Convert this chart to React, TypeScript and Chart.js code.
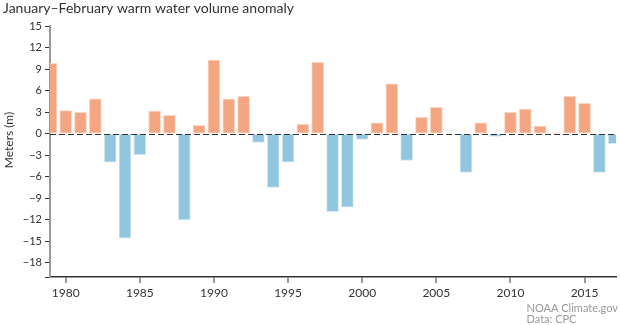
import React, { useEffect, useRef } from 'react';
import { Chart, registerables } from 'chart.js';

Chart.register(...registerables);

const years = [
  1979, 1980, 1981, 1982, 1983, 1984, 1985, 1986, 1987, 1988,
  1989, 1990, 1991, 1992, 1993, 1994, 1995, 1996, 1997, 1998,
  1999, 2000, 2001, 2002, 2003, 2004, 2005, 2006, 2007, 2008,
  2009, 2010, 2011, 2012, 2013, 2014, 2015, 2016, 2017,
];
const anomaly = [
  9.8, 3.2, 2.95, 4.85, -4.0, -14.6, -2.95, 3.15, 2.55, -12.05,
  1.15, 10.25, 4.8, 5.2, -1.25, -7.5, -4.0, 1.3, 9.95, -10.9,
  -10.25, -0.8, 1.5, 6.95, -3.75, 2.25, 3.65, 0.0, -5.4, 1.5,
  -0.4, 2.95, 3.4, 1.05, 0.1, 5.2, 4.2, -5.4, -1.4,
];
const xTickValues = [1980, 1985, 1990, 1995, 2000, 2005, 2010, 2015];
const yTickValues = [-20, -18, -15, -12, -9, -6, -3, 0, 3, 6, 9, 12, 15];

const titleText = 'January\u2013February warm water volume anomaly';
const yAxisLabel = 'Meters (m)';
const sourceLines = ['NOAA Climate.gov', 'Data: CPC'];

const FONT = 'Lato, "DejaVu Sans", sans-serif';
const WARM = '#f4a582';
const COOL = '#92c5de';

const textPlugin = {
  id: 'textPlugin',
  afterDatasetsDraw(chart: any) {
    const { ctx, chartArea, scales } = chart;
    const y0 = scales.y.getPixelForValue(0);
    ctx.save();
    ctx.strokeStyle = '#333';
    ctx.lineWidth = 1;
    ctx.setLineDash([6, 3]);
    ctx.beginPath();
    ctx.moveTo(chartArea.left, Math.round(y0) + 0.5);
    ctx.lineTo(chartArea.right, Math.round(y0) + 0.5);
    ctx.stroke();
    ctx.restore();
  },
  afterDraw(chart: any) {
    const { ctx } = chart;
    ctx.save();
    ctx.fillStyle = '#333';
    ctx.font = `14px ${FONT}`;
    ctx.textAlign = 'left';
    ctx.textBaseline = 'alphabetic';
    ctx.fillText(titleText, 3, 13);

    ctx.save();
    ctx.translate(13, 140);
    ctx.rotate(-Math.PI / 2);
    ctx.font = `12px ${FONT}`;
    ctx.textAlign = 'center';
    ctx.textBaseline = 'middle';
    ctx.fillText(yAxisLabel, 0, -4);
    ctx.restore();

    ctx.fillStyle = '#999';
    ctx.font = `11px ${FONT}`;
    ctx.textAlign = 'left';
    ctx.textBaseline = 'middle';
    const w = ctx.measureText(sourceLines[0]).width;
    const sx = 618 - w;
    sourceLines.forEach((line, i) => ctx.fillText(line, sx, 308 + i * 11));
    ctx.restore();
  },
};

export default function App() {
  const canvasRef = useRef<HTMLCanvasElement | null>(null);

  useEffect(() => {
    document.body.style.margin = '0';
    const canvas = canvasRef.current;
    if (!canvas) return;
    const chart = new Chart(canvas, {
      type: 'bar',
      data: {
        datasets: [
          {
            data: years.map((yr, i) => ({ x: yr, y: anomaly[i] })),
            backgroundColor: anomaly.map((v) => (v >= 0 ? WARM : COOL)),
            borderColor: anomaly.map((v) => (v >= 0 ? '#fbd6c5' : '#d3e9f3')),
            borderWidth: 1,
            borderSkipped: false,
            barThickness: 12,
            clip: 0,
          } as any,
        ],
      },
      options: {
        responsive: false,
        animation: false,
        events: [],
        layout: { padding: { top: 26, right: 4, left: 0, bottom: 0 } },
        plugins: {
          legend: { display: false },
          title: { display: false },
          tooltip: { enabled: false },
        },
        scales: {
          x: {
            type: 'linear',
            offset: false,
            min: 1978.94,
            max: 2017.12,
            afterBuildTicks: (axis: any) => {
              axis.ticks = xTickValues.map((v) => ({ value: v }));
            },
            afterFit: (scale: any) => {
              scale.height = 48;
            },
            grid: {
              display: true,
              offset: false,
              drawOnChartArea: false,
              drawTicks: true,
              tickLength: 6,
              color: '#999',
              lineWidth: 2,
            },
            border: { display: true, color: '#333', width: 1.5 },
            ticks: {
              autoSkip: false,
              maxRotation: 0,
              padding: 3,
              color: '#333',
              font: { family: FONT, size: 12 },
              callback: (v: any) => String(v),
            },
          },
          y: {
            type: 'linear',
            min: -20,
            max: 15,
            afterBuildTicks: (axis: any) => {
              axis.ticks = yTickValues.map((v) => ({ value: v }));
            },
            afterFit: (scale: any) => {
              scale.width = 50;
            },
            grid: {
              display: true,
              drawOnChartArea: false,
              drawTicks: true,
              tickLength: 5,
              color: '#333',
              lineWidth: 1,
            },
            border: { display: true, color: '#999', width: 2 },
            ticks: {
              autoSkip: false,
              padding: 3,
              color: '#333',
              font: { family: FONT, size: 11 },
              callback: (v: any) =>
                v === -20 ? '' : v < 0 ? '\u2212' + Math.abs(v) : String(v),
            },
          },
        },
      },
      plugins: [textPlugin],
    });
    return () => chart.destroy();
  }, []);

  return (
    <div style={{ width: 620, height: 325 }}>
      <canvas ref={canvasRef} width={620} height={325} style={{ display: 'block' }} />
    </div>
  );
}
